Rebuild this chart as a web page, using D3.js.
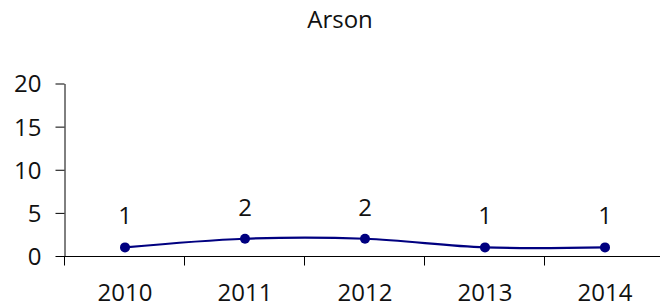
<!DOCTYPE html>
<html>
<head>
<meta charset="utf-8">
<script src="https://cdn.jsdelivr.net/npm/d3@7"></script>
<style>
  body { margin: 0; background: #fff; }
  text { font-family: "Open Sans", sans-serif; fill: #111; }
</style>
</head>
<body>
<div class="vis-linechart"></div>
<script>
const years = ["2010", "2011", "2012", "2013", "2014"];
const counts = [1, 2, 2, 1, 1];
const yTicks = [0, 5, 10, 15, 20];
const title = "Arson";

const draw = () => {
    const W = 660, H = 306;
    let margin = {top: 83.5, right: -5, bottom: 50, left: 65};
    const width = W - margin.left - margin.right;
    const height = H - margin.top - margin.bottom;

    let svg = d3.select('.vis-linechart')
                .append('svg')
                .attr('width', W)
                .attr('height', H);

    svg.append("text")
        .attr("x", 340)
        .attr("y", 28)
        .attr("text-anchor", "middle")
        .style("font-size", "24px")
        .text(title);

    let g = svg.append("g")
        .attr("transform", "translate(" + margin.left + "," + margin.top + ")");

    let data = years.map((y, i) => ({year: y, count: counts[i]}));

    let xScale = d3.scaleBand()
        .domain(years)
        .range([0, width]);

    let yScale = d3.scaleLinear()
        .domain([0, 20])
        .range([height, 0]);

    // Y axis
    let yAxis = g.append("g")
        .attr("transform", "translate(-0.5,0)")
        .call(d3.axisLeft(yScale).tickValues(yTicks).tickSize(9).tickPadding(14).tickSizeOuter(0));
    yAxis.selectAll("text").style("font-size", "24px").attr("dy", "0.35em");
    yAxis.select(".domain").attr("stroke", "#000");
    yAxis.selectAll(".tick line").attr("stroke", "#000");

    // X axis: ticks at the band boundaries, labels at band centres
    let xAxis = g.append("g")
        .attr("transform", "translate(0," + (height + 0.5) + ")");
    xAxis.append("line")
        .attr("x1", -1).attr("x2", width)
        .attr("stroke", "#000");
    let bounds = years.map(y => xScale(y));
    xAxis.selectAll(".bound")
        .data(bounds)
        .enter()
        .append("line")
        .attr("x1", d => Math.round(d) - 0.5)
        .attr("x2", d => Math.round(d) - 0.5)
        .attr("y1", 0).attr("y2", 9)
        .attr("stroke", "#000");
    xAxis.selectAll(".xlab")
        .data(years)
        .enter()
        .append("text")
        .attr("x", d => xScale(d) + xScale.bandwidth() / 2)
        .attr("y", 44)
        .attr("text-anchor", "middle")
        .style("font-size", "24px")
        .text(d => d);

    const cx = d => xScale(d.year) + xScale.bandwidth() / 2;

    g.append("path")
        .datum(data)
        .attr("fill", "none")
        .attr("stroke", "#000080")
        .attr("stroke-width", 2.2)
        .attr("d", d3.line()
            .x(cx)
            .y(d => yScale(d.count))
            .curve(d3.curveCardinal.tension(0)));

    g.selectAll(".dot")
        .data(data)
        .enter()
        .append("circle")
        .attr("cx", cx)
        .attr("cy", d => yScale(d.count))
        .attr("r", 5)
        .attr("fill", "#000080");

    g.selectAll(".lab")
        .data(data)
        .enter()
        .append("text")
        .attr("x", cx)
        .attr("y", d => yScale(d.count) - 23)
        .attr("text-anchor", "middle")
        .style("font-size", "24px")
        .text(d => d.count);
};

draw();
</script>
</body>
</html>
